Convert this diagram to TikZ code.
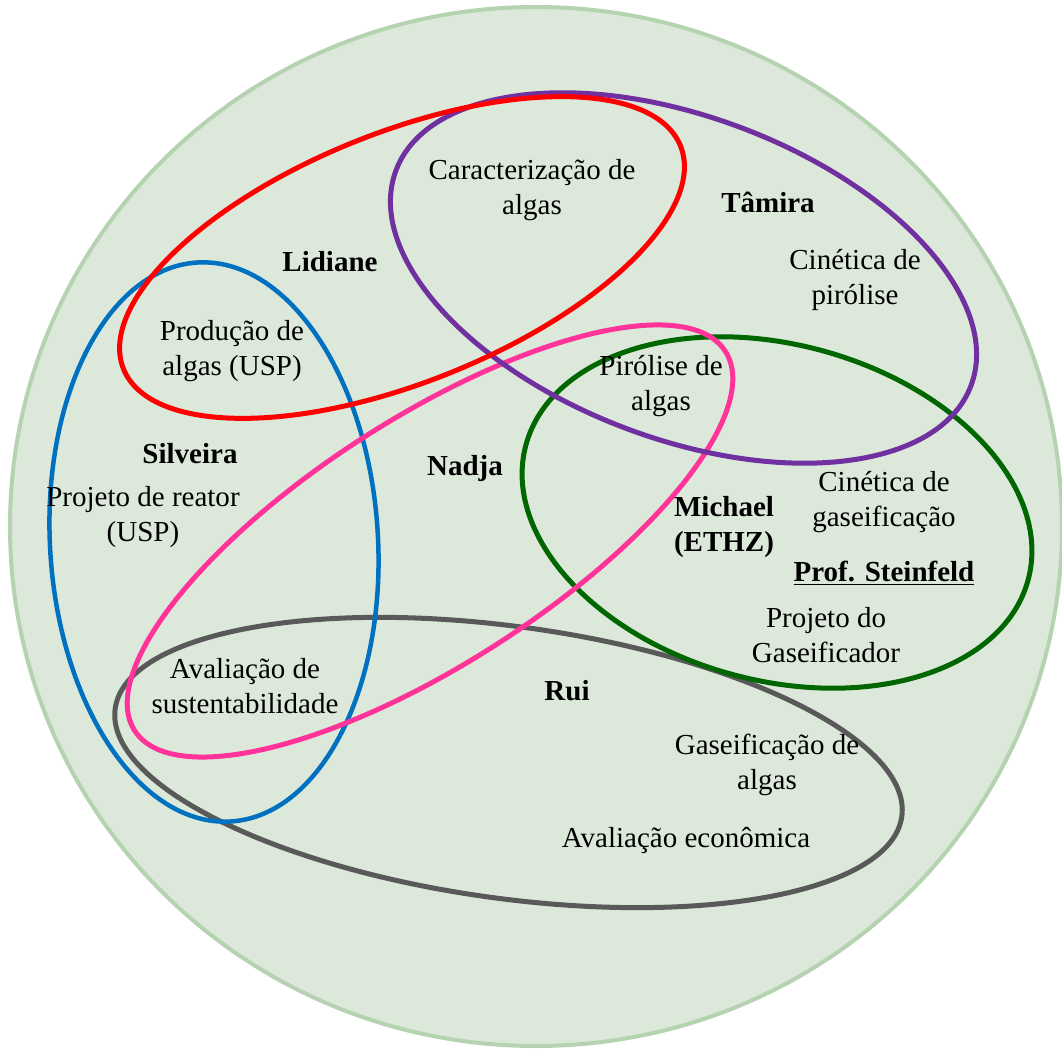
\documentclass[tikz,border=0pt]{standalone}
\usepackage{fontspec}
\setmainfont{Liberation Serif}
\definecolor{bgfill}{HTML}{DCE9DA}
\definecolor{bgedge}{HTML}{B5D3B1}
\definecolor{cred}{HTML}{FF0000}
\definecolor{cpurple}{HTML}{7030A0}
\definecolor{cblue}{HTML}{0070C0}
\definecolor{cpink}{HTML}{FF3399}
\definecolor{cgreen}{HTML}{006600}
\definecolor{cgray}{HTML}{595959}
\begin{document}
\begin{tikzpicture}[x=1pt,y=1pt,
  lbl/.style={align=center, font=\fontsize{29}{35}\selectfont, inner sep=0pt},
  who/.style={align=center, font=\fontsize{29}{35}\selectfont\bfseries, inner sep=0pt},
  ring/.style={line width=5pt}]
\useasboundingbox (0,0) rectangle (1062,1049);
% background circle
\draw[bgedge, fill=bgfill, line width=4pt] (536,522.5) ellipse[x radius=526pt, y radius=519.5pt];
% groups
\draw[ring, cgray, rotate around={-7.8:(508.5,286.5)}] (508.5,286.5) ellipse[x radius=397pt, y radius=136pt];
\draw[ring, cgreen, rotate around={-15:(777,536.5)}] (777,536.5) ellipse[x radius=260pt, y radius=168pt];
\draw[ring, cblue, line width=4.5pt, rotate around={3.4:(214,507)}] (214,507) ellipse[x radius=164pt, y radius=280pt];
\draw[ring, cpink, rotate around={32.7:(430,508)}] (430,508) ellipse[x radius=351pt, y radius=123pt];
\draw[ring, cpurple, rotate around={-20.5:(683.5,771)}] (683.5,771) ellipse[x radius=307pt, y radius=161pt];
\draw[ring, cred, rotate around={21.8:(402,791.5)}] (402,791.5) ellipse[x radius=300pt, y radius=125pt];
% labels
\node[lbl] (carac) at (532,859) {Caracterização de\\algas};
\node[who] (tamira) at (768,847) {Tâmira};
\node[who] (lidiane) at (330,787) {Lidiane};
\node[lbl] (cinpir) at (855,769) {Cinética de\\pirólise};
\node[lbl] (prod) at (232,698) {Produção de\\algas (USP)};
\node[lbl] (pirol) at (661,663) {Pirólise de\\algas};
\node[who] (silveira) at (190,595) {Silveira};
\node[who] (nadja) at (465,580) {Nadja};
\node[lbl] (reator) at (143,532) {Projeto de reator\\(USP)};
\node[who] (michael) at (724,522) {Michael\\(ETHZ)};
\node[lbl] (cingas) at (884,547) {Cinética de\\gaseificação};
\node[who] (prof) at (884,476) {\underline{Prof. Steinfeld}};
\node[lbl] (projgas) at (826,414) {Projeto do\\Gaseificador};
\node[lbl] (sust) at (245,363) {Avaliação de\\sustentabilidade};
\node[who] (rui) at (567,358) {Rui};
\node[lbl] (gasalg) at (767,284) {Gaseificação de\\algas};
\node[lbl] (econ) at (686,209) {Avaliação econômica};
\end{tikzpicture}
\end{document}
